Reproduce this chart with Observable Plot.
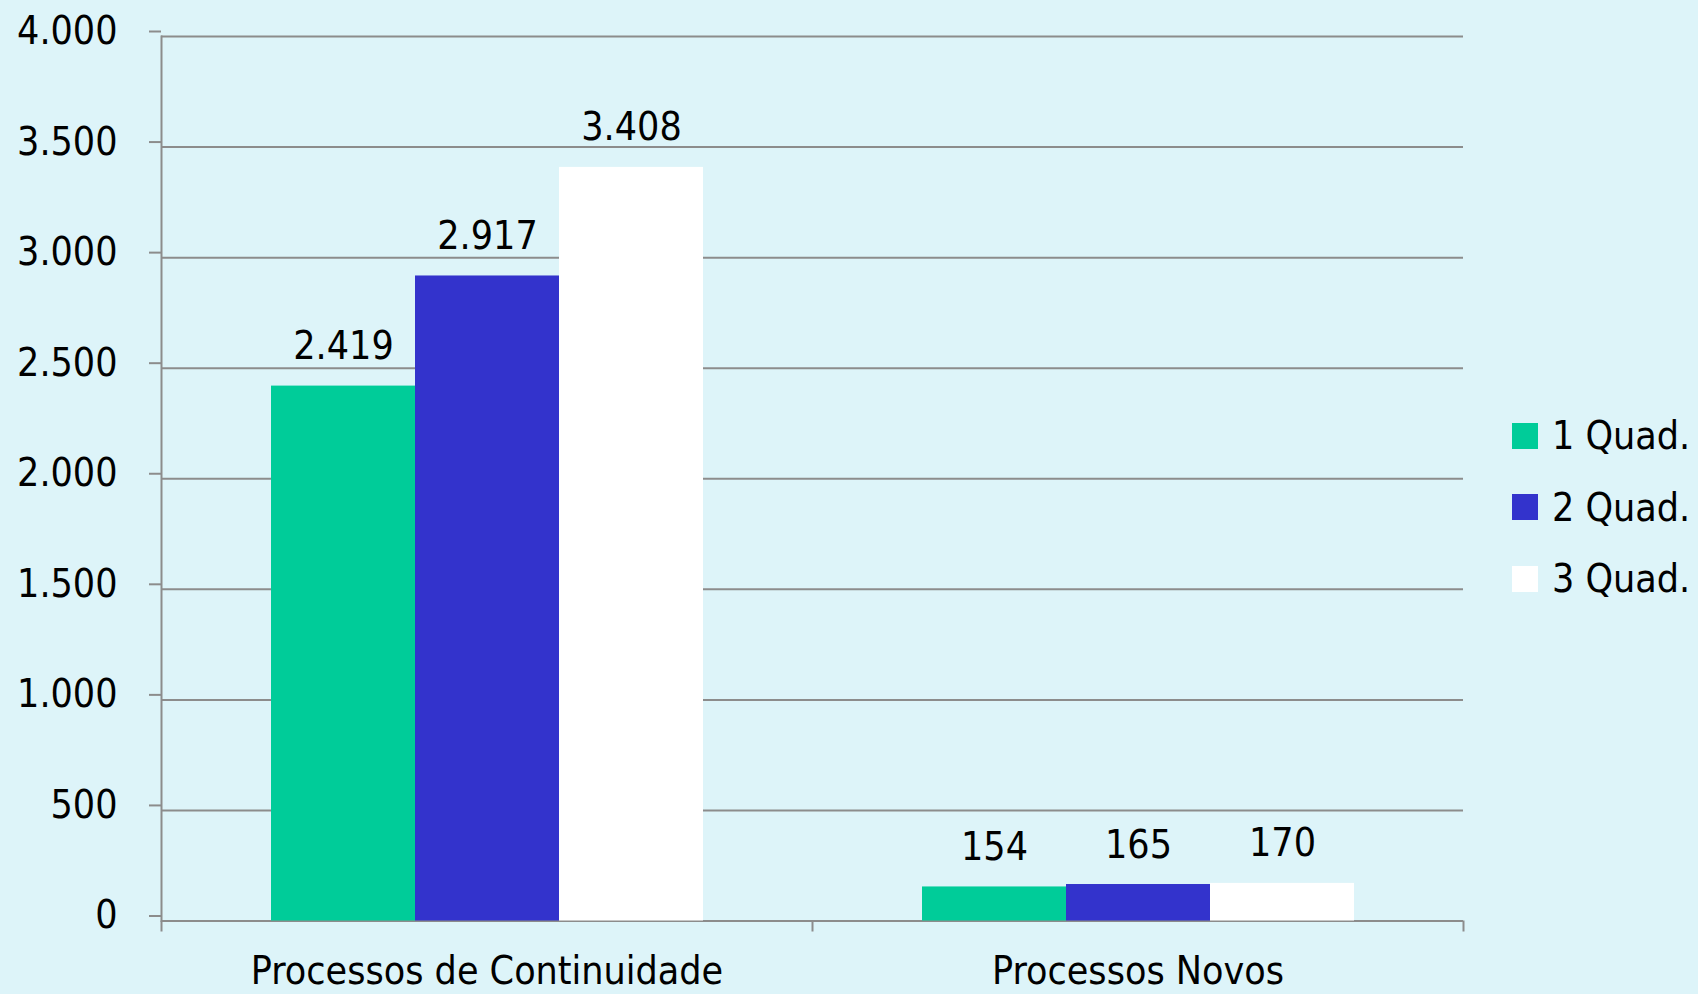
<!DOCTYPE html>
<html>
<head>
<meta charset="utf-8">
<script src="https://cdn.jsdelivr.net/npm/d3@7"></script>
<script src="https://cdn.jsdelivr.net/npm/@observablehq/plot@0.6"></script>
<style>
  html, body { margin: 0; padding: 0; background: #ddf4f9; overflow: hidden; }
  #wrap { position: relative; width: 1698px; height: 994px; font-family: "DejaVu Sans Condensed", "DejaVu Sans", sans-serif; font-stretch: condensed; }
  #legend { position: absolute; left: 1512px; top: 400px; }
  .row { display: flex; align-items: center; height: 71.5px; }
  .sw { width: 26px; height: 26px; margin-right: 14px; }
  .lab { font-size: 39px; color: #000; line-height: 1; }
</style>
</head>
<body>
<div id="wrap"></div>
<script>
const categories = ["Processos de Continuidade", "Processos Novos"];
const quads = ["1 Quad.", "2 Quad.", "3 Quad."];
const quad1 = [2419, 154];
const quad2 = [2917, 165];
const quad3 = [3408, 170];
const quadColors = ["#00cc99", "#3333cc", "#ffffff"];
const yTicks = [0, 500, 1000, 1500, 2000, 2500, 3000, 3500, 4000];

const series = [quad1, quad2, quad3];
const data = [];
categories.forEach((c, i) => quads.forEach((q, j) => data.push({category: c, quad: q, value: series[j][i]})));

const fmt = d3.formatLocale({decimal: ",", thousands: ".", grouping: [3], currency: ["R$", ""]}).format(",d");

const W = 1698, H = 994, mL = 161, mR = 235, mT = 36, mB = 73.5;
const halfBand = (W - mL - mR) / categories.length / 2;
const gray = "#8c8c8c";

const chart = Plot.plot({
  width: W, height: H,
  marginLeft: mL, marginRight: mR, marginTop: mT, marginBottom: mB,
  style: {background: "transparent", fontFamily: "'DejaVu Sans Condensed', 'DejaVu Sans', sans-serif", fontStretch: "condensed", color: "#000"},
  fx: {domain: categories, padding: 0},
  x: {domain: quads, paddingInner: 0, paddingOuter: 0.75, axis: null},
  y: {domain: [0, 4000]},
  color: {domain: quads, range: quadColors},
  marks: [
    Plot.gridY(yTicks, {stroke: gray, strokeOpacity: 1, strokeWidth: 2}),
    Plot.barY(data, {fx: "category", x: "quad", y: "value", fill: "quad"}),
    Plot.text(data, {fx: "category", x: "quad", y: "value", text: d => fmt(d.value), lineAnchor: "bottom", dy: -27, fontSize: 39, fill: "#000"}),
    Plot.frame({anchor: "left", stroke: gray, strokeWidth: 2, facetAnchor: "left"}),
    Plot.axisY({ticks: yTicks, tickSize: 12, tickPadding: 32, tickFormat: fmt, fontSize: 39, dy: -5, stroke: gray, strokeWidth: 2, fill: "#000", label: null}),
    Plot.axisFx({anchor: "bottom", tickSize: 0, tickPadding: 35, fontSize: 39, fill: "#000", label: null}),
    Plot.axisFx({anchor: "bottom", tickSize: 11, tickFormat: () => "", dx: -halfBand, stroke: gray, strokeWidth: 2, label: null}),
    Plot.axisFx({anchor: "bottom", ticks: [categories[categories.length - 1]], tickSize: 11, tickFormat: () => "", dx: halfBand, stroke: gray, strokeWidth: 2, label: null})
  ]
});

const wrap = document.getElementById("wrap");
wrap.appendChild(chart);

const legend = d3.select(wrap).append("div").attr("id", "legend");
quads.forEach((q, i) => {
  const row = legend.append("div").attr("class", "row");
  row.append("div").attr("class", "sw").style("background", quadColors[i]);
  row.append("div").attr("class", "lab").text(q);
});
</script>
</body>
</html>
